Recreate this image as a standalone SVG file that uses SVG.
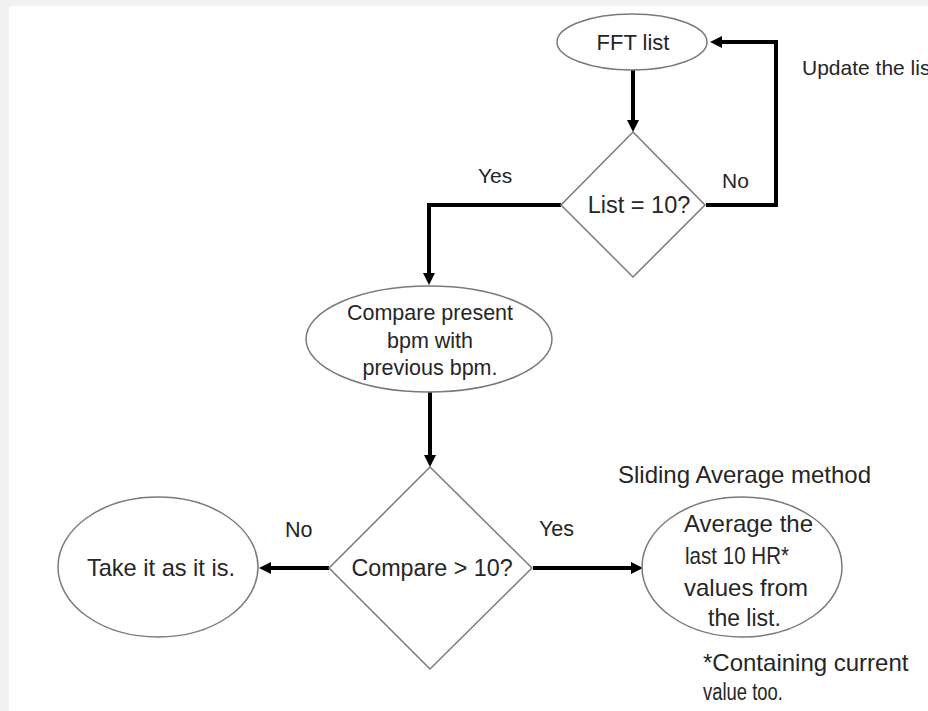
<svg xmlns="http://www.w3.org/2000/svg" width="928" height="711" viewBox="0 0 928 711" font-size="21">
<defs>
<marker id="arrow" markerUnits="userSpaceOnUse" markerWidth="12" markerHeight="12" refX="0" refY="6" orient="auto" overflow="visible">
<path d="M0,0 L12,6 L0,12 z" fill="#000"/>
</marker>
<style>
.shape{fill:#fff;stroke:#7a7a7a;stroke-width:1.5}
.conn{fill:none;stroke:#000;stroke-width:4;marker-end:url(#arrow)}
text{font-family:"Liberation Sans",Arial,sans-serif;fill:#262626}
.c{text-anchor:middle}
</style>
</defs>
<rect x="0" y="0" width="928" height="711" fill="#f0f1f3"/>
<rect x="9" y="6" width="919" height="705" fill="#fff"/>
<g id="connectors">
<path class="conn" d="M633,70 V120"/>
<path class="conn" d="M706,205 H776 V42 H722"/>
<path class="conn" d="M561,205 H429 V273"/>
<path class="conn" d="M430,392 V455"/>
<path class="conn" d="M329,568 H271"/>
<path class="conn" d="M533,568 H631"/>
</g>
<g id="labels">
<text x="722" y="188">No</text>
<text x="478" y="183">Yes</text>
<text x="285" y="537" font-size="21.5">No</text>
<text x="539" y="536" font-size="21.5">Yes</text>
<text x="802" y="75">Update the list</text>
<text x="618" y="483" font-size="24">Sliding Average method</text>
<text x="703" y="671" font-size="24">*Containing current</text>
<text x="703" y="700" font-size="23" textLength="80" lengthAdjust="spacingAndGlyphs">value too.</text>
</g>
<g id="fft-list">
<ellipse class="shape" cx="632" cy="42" rx="75" ry="28"/>
<text class="c" x="633" y="50" font-size="22">FFT list</text>
</g>
<g id="list-check">
<polygon class="shape" points="633,132 705,205 633,277 561,205"/>
<text class="c" x="639" y="213" font-size="23.5">List = 10?</text>
</g>
<g id="compare-bpm">
<ellipse class="shape" cx="429" cy="339" rx="123" ry="53"/>
<text class="c" x="430" y="320" font-size="21.5">Compare present</text>
<text class="c" x="430" y="348" font-size="21.5">bpm with</text>
<text class="c" x="430" y="375" font-size="21.5">previous bpm.</text>
</g>
<g id="compare-check">
<polygon class="shape" points="430,467 532,568 430,669 329,568"/>
<text class="c" x="432" y="576" font-size="23.3">Compare &gt; 10?</text>
</g>
<g id="take-as-is">
<ellipse class="shape" cx="158" cy="567" rx="100" ry="70"/>
<text class="c" x="161" y="576" font-size="23.6">Take it as it is.</text>
</g>
<g id="average">
<ellipse class="shape" cx="742" cy="567" rx="100" ry="70"/>
<text x="684" y="532" font-size="24">Average the</text>
<text x="685" y="564" font-size="24" textLength="104" lengthAdjust="spacingAndGlyphs">last 10 HR*</text>
<text x="684" y="596" font-size="24">values from</text>
<text x="708" y="626" font-size="23">the list.</text>
</g>
</svg>
